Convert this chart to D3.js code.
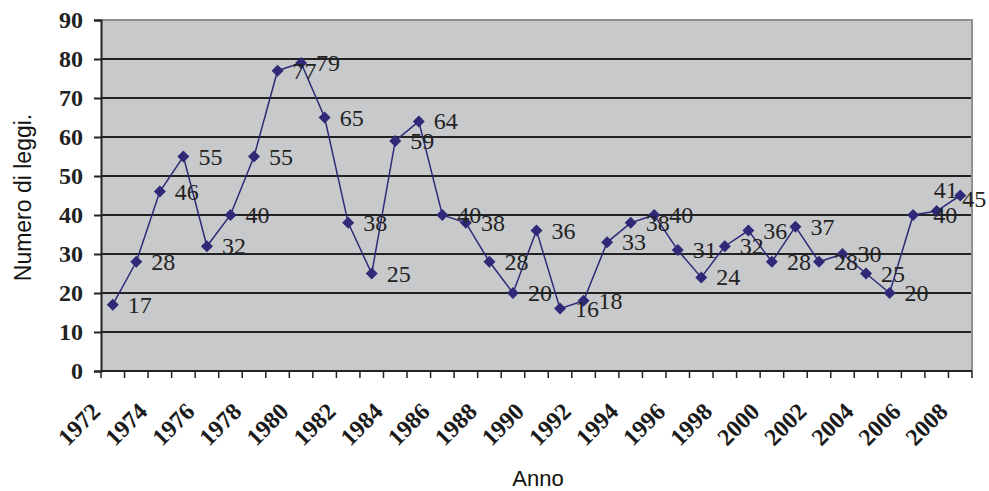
<!DOCTYPE html>
<html>
<head>
<meta charset="utf-8">
<script src="https://cdn.jsdelivr.net/npm/d3@7"></script>
<style>
  body { margin: 0; background: #fff; }
</style>
</head>
<body>
<script>
'use strict';

// years on the category axis
const years = d3.range(1972, 2009);

// number of laws per year (data labels)
const laws = [17, 28, 46, 55, 32, 40, 55, 77, 79, 65, 38, 25, 59, 64, 40, 38, 28, 20,
  36, 16, 18, 33, 38, 40, 31, 24, 32, 36, 28, 37, 28, 30, 25, 20, 40, 41, 45];

// y axis ticks
const yTicks = [0, 10, 20, 30, 40, 50, 60, 70, 80, 90];

// only every other year gets a label
const xTickLabels = years.filter((y, i) => i % 2 === 0);

// hand-moved data labels in the original chart
const labelNudge = { 2006: [5, 0], 2007: [-18, -21], 2008: [-13, 3] };

const width = 989, height = 491;
const margin = { left: 101, right: 17, top: 20, bottom: 120 };

const svg = d3.select('body').append('svg')
  .attr('width', width)
  .attr('height', height);

const x = d3.scaleBand()
  .domain(years)
  .range([margin.left, width - margin.right]);

const y = d3.scaleLinear()
  .domain([0, 90])
  .range([height - margin.bottom, margin.top]);

const x0 = margin.left, x1 = width - margin.right;
const yBottom = y(0), yTop = y(90);

// plot background
svg.append('rect')
  .attr('x', x0).attr('y', yTop)
  .attr('width', x1 - x0).attr('height', yBottom - yTop)
  .attr('fill', '#c8c9cb');

// grid lines
svg.append('g').selectAll('line')
  .data(yTicks.filter(d => d > 0 && d < 90))
  .enter()
  .append('line')
    .attr('x1', x0).attr('x2', x1)
    .attr('y1', d => y(d)).attr('y2', d => y(d))
    .attr('stroke', '#222')
    .attr('stroke-width', 2);

// grey frame on top and right
svg.append('path')
  .attr('d', `M${x0},${yTop}H${x1}V${yBottom}`)
  .attr('fill', 'none')
  .attr('stroke', '#8f8f91')
  .attr('stroke-width', 2);

// y axis
let yAxis = d3.axisLeft(y).tickValues(yTicks).tickSize(7).tickPadding(11);
let gy = svg.append('g')
  .attr('transform', `translate(${x0},0)`)
  .call(yAxis);
gy.select('.domain').attr('stroke', '#222').attr('stroke-width', 2);
gy.selectAll('.tick line').attr('stroke', '#222').attr('stroke-width', 2);
gy.selectAll('.tick text')
  .attr('font-family', '"Liberation Serif", "Times New Roman", serif')
  .attr('font-weight', 'bold')
  .attr('font-size', 24)
  .attr('fill', '#222');

// x axis line with ticks between categories
svg.append('line')
  .attr('x1', x0).attr('x2', x1)
  .attr('y1', yBottom).attr('y2', yBottom)
  .attr('stroke', '#222').attr('stroke-width', 2);

svg.append('g').selectAll('line')
  .data(years.concat([null]))
  .enter()
  .append('line')
    .attr('x1', (d, i) => x0 + i * x.step())
    .attr('x2', (d, i) => x0 + i * x.step())
    .attr('y1', yBottom).attr('y2', yBottom + 7)
    .attr('stroke', '#222').attr('stroke-width', 1.5);

// rotated year labels
svg.append('g').selectAll('text')
  .data(xTickLabels)
  .enter()
  .append('text')
    .attr('transform', d => `translate(${x(d) + x.bandwidth() / 2 - 11},${yBottom + 42}) rotate(-45)`)
    .attr('text-anchor', 'end')
    .attr('font-family', '"Liberation Serif", "Times New Roman", serif')
    .attr('font-weight', 'bold')
    .attr('font-size', 24)
    .attr('fill', '#1a1a1a')
    .text(d => d);

const cx = d => x(d) + x.bandwidth() / 2;
const points = years.map((yr, i) => ({ year: yr, value: laws[i] }));

// the line
svg.append('path')
  .datum(points)
  .attr('fill', 'none')
  .attr('stroke', '#2e2a78')
  .attr('stroke-width', 1.5)
  .attr('d', d3.line().x(d => cx(d.year)).y(d => y(d.value)));

// diamond markers
svg.append('g').selectAll('path')
  .data(points)
  .enter()
  .append('path')
    .attr('transform', d => `translate(${cx(d.year)},${y(d.value)})`)
    .attr('d', 'M0,-6L6,0L0,6L-6,0Z')
    .attr('fill', '#2e2a78');

// data labels
svg.append('g').selectAll('text')
  .data(points)
  .enter()
  .append('text')
    .attr('x', d => cx(d.year) + 15 + (labelNudge[d.year] ? labelNudge[d.year][0] : 0))
    .attr('y', d => y(d.value) + 8 + (labelNudge[d.year] ? labelNudge[d.year][1] : 0))
    .attr('font-family', '"Liberation Serif", "Times New Roman", serif')
    .attr('font-size', 24)
    .attr('fill', '#222')
    .text(d => d.value);

// axis titles
svg.append('text')
  .attr('transform', `translate(31,${(yTop + yBottom) / 2 + 2}) rotate(-90)`)
  .attr('text-anchor', 'middle')
  .attr('font-family', '"Liberation Sans", Arial, sans-serif')
  .attr('font-size', 23)
  .attr('fill', '#111')
  .text('Numero di leggi.');

svg.append('text')
  .attr('x', 538)
  .attr('y', 486)
  .attr('text-anchor', 'middle')
  .attr('font-family', '"Liberation Sans", Arial, sans-serif')
  .attr('font-size', 22)
  .attr('fill', '#111')
  .text('Anno');
</script>
</body>
</html>
